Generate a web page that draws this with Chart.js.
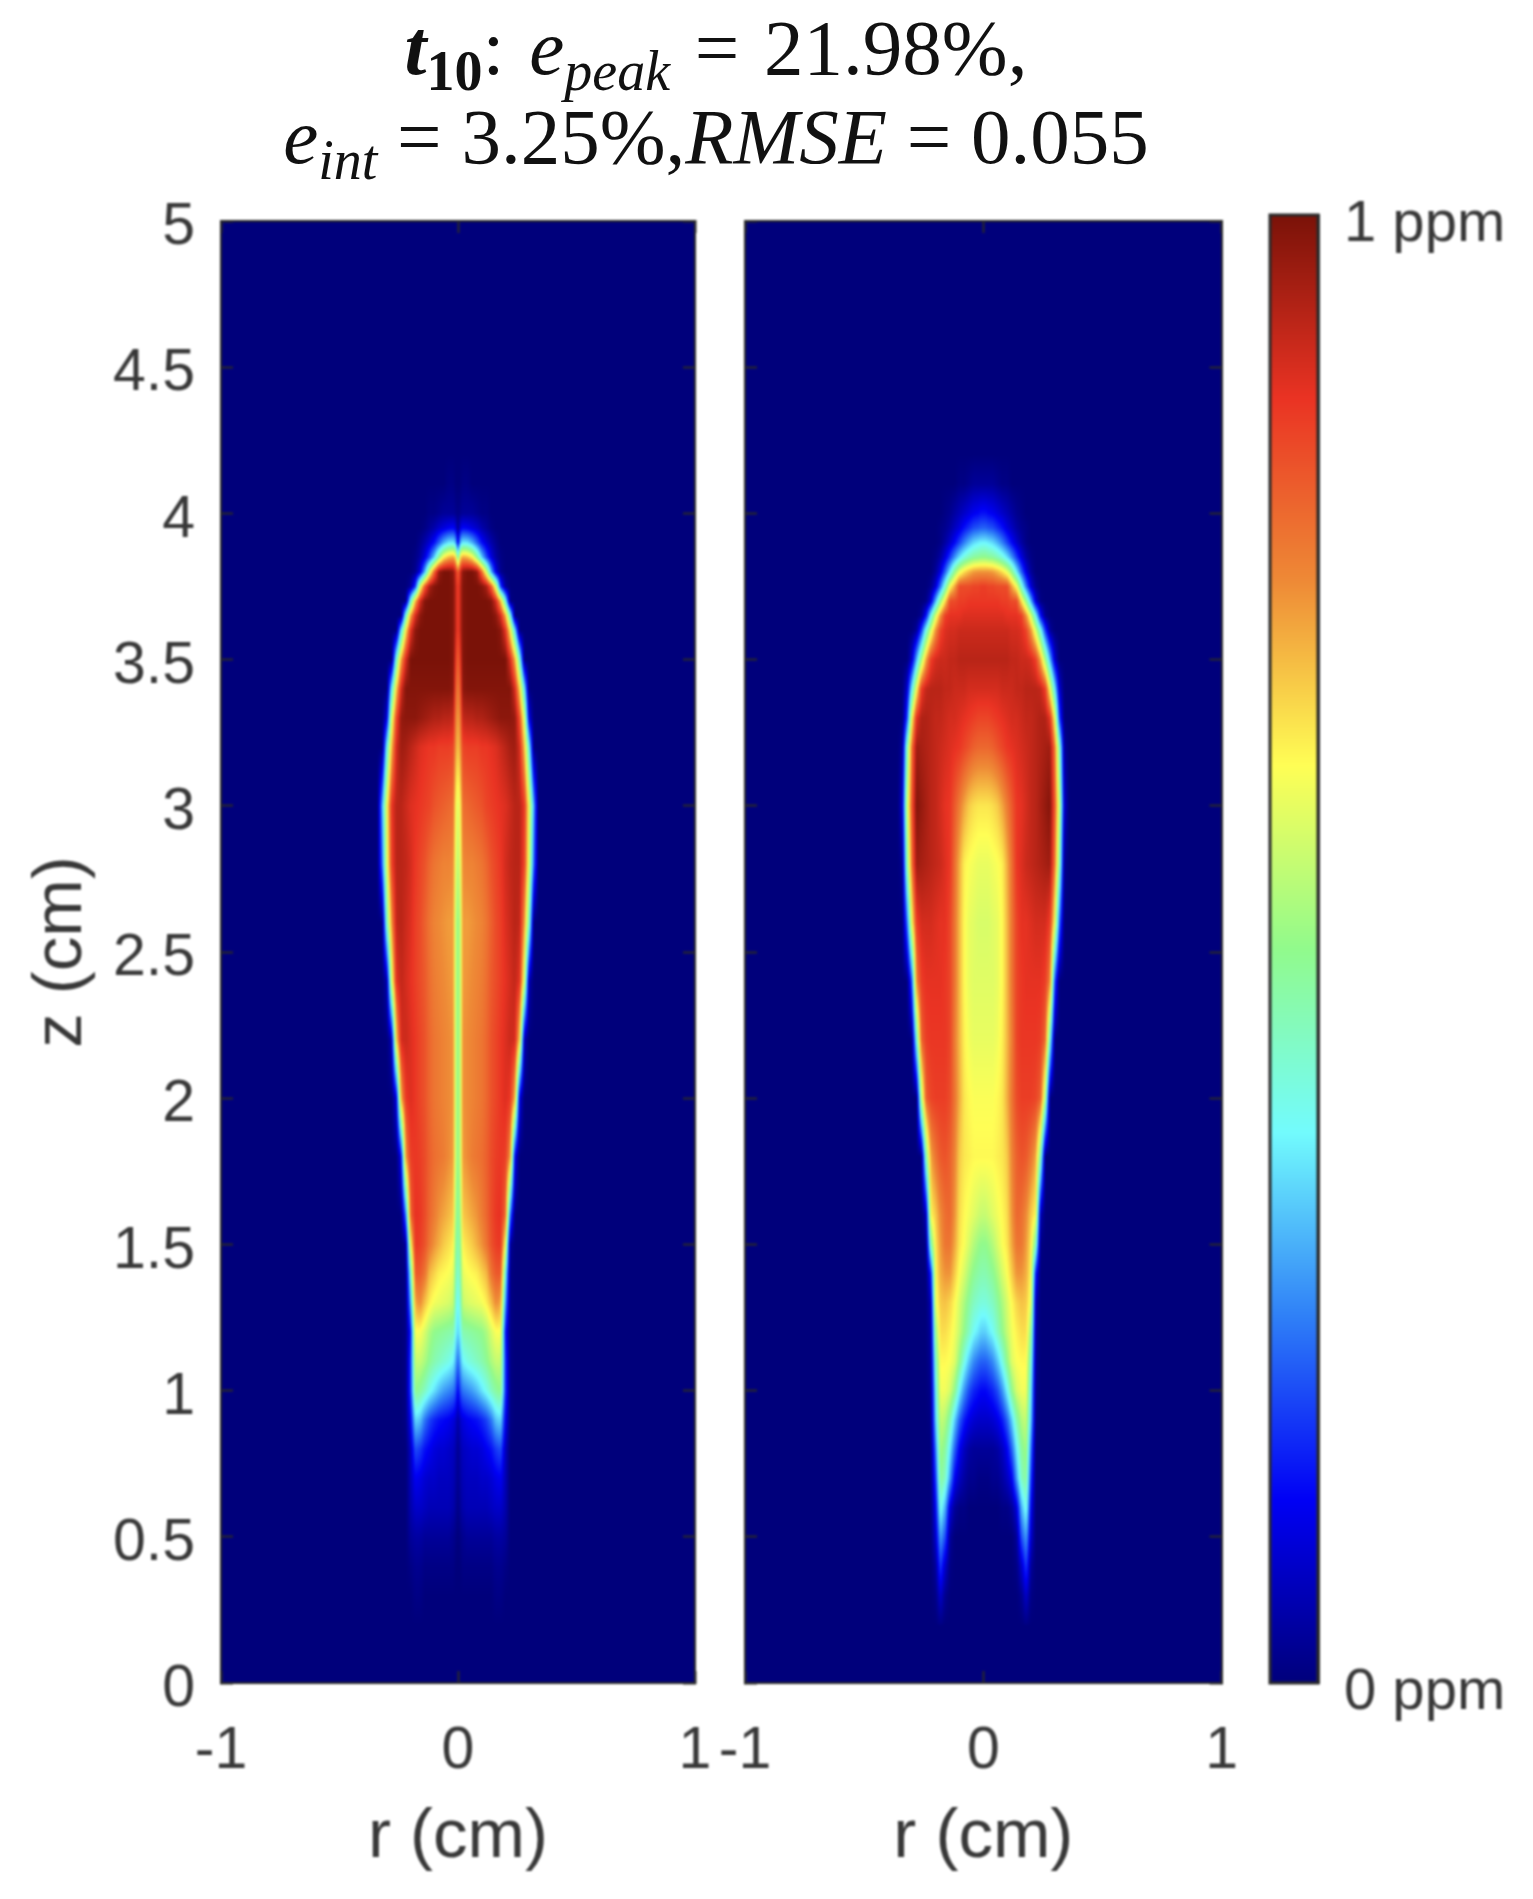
<!DOCTYPE html>
<html>
<head>
<meta charset="utf-8">
<title>t10 plume</title>
<script src="https://cdn.jsdelivr.net/npm/chart.js@4/dist/chart.umd.min.js"></script>
<style>
    html, body { margin: 0; padding: 0; background: #fff; width: 1533px; height: 1899px; overflow: hidden; }
    canvas { position: absolute; filter: blur(0.8px); }
    .title { position: absolute; left: 0; width: 1432px; text-align: center; font-family: "Liberation Serif", serif; font-size: 79px; line-height: 90px; color: #111; white-space: nowrap; filter: blur(0.6px); }
    .title i { font-style: italic; }
    .title sub { font-size: 56px; vertical-align: -16px; line-height: 0; }
</style>
</head>
<body>
<div class="title" style="top: 3px; word-spacing: 5px"><b><i>t</i><sub>10</sub></b>: <i>e<sub>peak</sub></i> = 21.98%,</div>
<div class="title" style="top: 92px"><i>e<sub>int</sub></i> = 3.25%,<i>RMSE</i> = 0.055</div>
<canvas id="leftPanel" style="left:0;top:120px" width="760" height="1779"></canvas>
<canvas id="rightPanel" style="left:660px;top:120px" width="623" height="1779"></canvas>
<canvas id="colorBar" style="left:1240px;top:120px" width="293" height="1779"></canvas>
<script>
// tick positions and labels
const zTicks = [0, 0.5, 1, 1.5, 2, 2.5, 3, 3.5, 4, 4.5, 5];
const rTicks = [-1, 0, 1];
const barTicks = [0, 1];
const barLabels = ["0 ppm", "1 ppm"];

// radius of each column, both panels are mirrored around r = 0
const rCols = [0, 0.01, 0.02, 0.04, 0.06, 0.08, 0.10, 0.12, 0.14, 0.16, 0.18, 0.20, 0.22, 0.24, 0.26, 0.28, 0.30, 0.32, 0.34, 0.36];
// height of each row
const zRows = [0.2, 0.3, 0.4, 0.5, 0.6, 0.7, 0.8, 0.9, 1.0, 1.1, 1.2, 1.3, 1.4, 1.5, 1.6, 1.8, 2.0, 2.2, 2.4, 2.6, 2.8, 3.0, 3.2, 3.3, 3.4, 3.5, 3.6, 3.65, 3.7, 3.75, 3.8, 3.85, 3.9, 3.95, 4.0, 4.1, 4.2];

// left panel, percent of 1 ppm, short rows are 0 further out
const leftValues = [
    [0],
    [0, 0, 0, 0, 0, 0, 0, 0, 0, 1, 1],
    [0, 0, 1, 1, 1, 1, 1, 1, 1, 2, 2, 1],
    [0, 1, 2, 3, 3, 3, 3, 3, 3, 4, 4, 3],
    [1, 3, 5, 6, 6, 6, 6, 6, 7, 8, 8, 5],
    [2, 4, 6, 7, 7, 7, 8, 8, 9, 11, 12, 6],
    [2, 5, 7, 8, 9, 9, 10, 12, 14, 18, 20, 7],
    [4, 8, 10, 12, 13, 14, 16, 19, 24, 32, 34, 12, 1],
    [12, 20, 24, 26, 28, 31, 35, 39, 44, 48, 50, 18, 1],
    [22, 30, 37, 40, 42, 44, 46, 49, 53, 56, 56, 18, 1],
    [33, 38, 46, 47, 48, 49, 50, 53, 58, 62, 62, 15, 1],
    [37, 43, 56, 58, 59, 60, 61, 64, 69, 75, 72, 28, 1],
    [42, 47, 60, 62, 63, 64, 67, 70, 78, 82, 82, 40, 1],
    [45, 50, 64, 66, 68, 71, 74, 78, 83, 86, 87, 62, 3],
    [47, 53, 68, 70, 72, 74, 77, 80, 84, 87, 88, 80, 24],
    [50, 56, 73, 75, 77, 78, 79, 81, 84, 86, 87, 86, 74, 12],
    [50, 56, 74, 75, 76, 77, 78, 80, 83, 85, 87, 89, 87, 71, 10],
    [50, 56, 74, 75, 76, 77, 78, 80, 83, 85, 87, 89, 91, 90, 67, 6],
    [50, 56, 73, 74, 75, 76, 77, 79, 82, 84, 86, 88, 90, 92, 88, 58, 5],
    [50, 56, 73, 73, 74, 75, 76, 78, 81, 84, 86, 89, 91, 93, 92, 74, 44],
    [54, 60, 75, 76, 76, 77, 78, 80, 83, 85, 87, 90, 92, 93, 93, 85, 59, 22],
    [58, 64, 79, 80, 81, 82, 83, 85, 86, 87, 88, 89, 91, 93, 93, 87, 62, 28],
    [68, 74, 85, 86, 86, 86, 87, 87, 88, 89, 91, 93, 95, 96, 90, 70, 38],
    [72, 78, 92, 93, 93, 94, 94, 95, 96, 97, 98, 98, 98, 97, 84, 58, 10],
    [76, 83, 98, 99, 99, 99, 99, 99, 99, 99, 99, 99, 99, 90, 68, 36],
    [80, 88, 99, 100, 100, 100, 100, 100, 100, 100, 100, 100, 90, 72, 42],
    [85, 92, 99, 100, 100, 100, 100, 100, 100, 100, 98, 88, 65, 35],
    [85, 92, 99, 100, 100, 100, 100, 100, 100, 98, 90, 72, 42],
    [85, 92, 99, 100, 100, 100, 100, 100, 99, 90, 70, 40, 1],
    [85, 92, 99, 100, 100, 100, 99, 95, 82, 58, 18, 3],
    [80, 90, 98, 100, 100, 97, 80, 58, 30, 10, 2],
    [45, 66, 72, 70, 64, 50, 33, 20, 10, 4, 1],
    [10, 30, 36, 35, 30, 22, 14, 9, 5, 2],
    [2, 10, 13, 12, 10, 8, 5, 3, 1],
    [1, 2, 3, 3, 3, 2, 1, 1],
    [0, 0, 1, 1],
    [0]
];

// right panel, same rows and columns
const rightValues = [
    [0, 0, 0, 0, 0, 0, 0, 0, 0, 0, 1],
    [0, 0, 0, 0, 0, 0, 0, 0, 0, 2, 8, 1],
    [0, 0, 0, 0, 0, 0, 0, 0, 1, 8, 18, 3],
    [0, 0, 0, 0, 0, 0, 0, 0, 3, 20, 28, 8],
    [0, 0, 0, 0, 0, 1, 1, 3, 10, 30, 40, 12],
    [1, 1, 1, 2, 2, 4, 7, 12, 28, 44, 48, 18],
    [3, 3, 3, 3, 4, 7, 12, 22, 36, 48, 52, 24],
    [8, 8, 8, 9, 11, 15, 22, 33, 46, 54, 56, 32, 1],
    [13, 13, 14, 16, 20, 27, 37, 50, 58, 61, 61, 36, 2],
    [22, 22, 23, 26, 32, 40, 50, 59, 62, 63, 63, 42, 3],
    [33, 33, 35, 38, 44, 50, 56, 61, 64, 66, 66, 50, 4],
    [41, 41, 42, 44, 48, 53, 58, 63, 67, 69, 68, 60, 6],
    [46, 46, 47, 49, 53, 58, 62, 68, 74, 74, 71, 63, 15],
    [50, 50, 51, 54, 58, 62, 65, 72, 78, 78, 73, 65, 45, 1],
    [56, 56, 57, 59, 61, 63, 66, 74, 80, 79, 75, 68, 63, 6],
    [63, 63, 63, 63, 64, 65, 68, 76, 81, 83, 82, 78, 72, 46],
    [62, 62, 62, 62, 63, 65, 71, 78, 84, 86, 86, 86, 85, 81, 53],
    [60, 60, 60, 60, 61, 64, 70, 77, 85, 87, 87, 87, 87, 86, 80, 40],
    [59, 59, 59, 59, 60, 63, 70, 78, 85, 87, 88, 88, 88, 88, 86, 76, 20],
    [58, 58, 58, 59, 60, 63, 70, 78, 85, 88, 88, 89, 90, 90, 90, 86, 62, 22],
    [60, 60, 60, 61, 62, 64, 71, 79, 87, 89, 91, 92, 93, 94, 95, 96, 78, 46, 2],
    [65, 65, 65, 66, 68, 72, 77, 82, 87, 88, 90, 92, 93, 95, 97, 99, 82, 55, 8],
    [80, 80, 80, 81, 83, 85, 87, 88, 89, 90, 91, 92, 93, 94, 95, 96, 78, 44, 3],
    [85, 85, 85, 86, 87, 88, 89, 90, 90, 91, 92, 92, 93, 94, 94, 88, 62, 18],
    [90, 90, 90, 90, 90, 91, 91, 91, 92, 92, 93, 93, 93, 92, 86, 62, 36, 8],
    [93, 93, 93, 93, 93, 93, 93, 92, 92, 91, 91, 90, 86, 72, 52, 30, 8],
    [91, 91, 91, 91, 91, 91, 91, 90, 90, 89, 85, 74, 58, 40, 18, 3],
    [89, 89, 89, 89, 89, 89, 88, 88, 88, 86, 74, 58, 38, 14, 2],
    [87, 87, 87, 87, 87, 86, 86, 84, 84, 66, 50, 30, 9, 1],
    [86, 86, 85, 85, 84, 84, 84, 72, 62, 42, 24, 9, 2],
    [74, 74, 74, 73, 70, 66, 60, 50, 36, 22, 10, 3],
    [50, 50, 49, 48, 45, 41, 35, 27, 18, 10, 4, 1],
    [37, 37, 36, 34, 30, 25, 19, 13, 8, 4, 1],
    [22, 22, 21, 20, 17, 14, 10, 7, 4, 2, 1],
    [14, 14, 13, 12, 10, 8, 6, 4, 2, 1],
    [3, 3, 3, 3, 2, 1, 1],
    [0]
];

// colour bar, levels in percent of 1 ppm from bottom to top
const barLevels = [0, 12.5, 25, 37.5, 50, 62.5, 75, 87.5, 100];
const barCols = [0, 1];

// jet as it shows up in the screenshot
const jetStops = [0, 12.5, 25, 37.5, 50, 62.5, 75, 87.5, 100];
const jetColors = ["#00007b", "#0000f5", "#2f80f7", "#72fbfd", "#91fa8c", "#fffe55", "#ee8a36", "#ea3323", "#7a1208"];
const jetRgb = jetColors.map((c) => [1, 3, 5].map((i) => parseInt(c.slice(i, i + 2), 16)));

function jet(v) {
    v = Math.max(0, Math.min(100, v));
    let i = 0;
    while (i < jetStops.length - 2 && v > jetStops[i + 1]) i++;
    const t = (v - jetStops[i]) / (jetStops[i + 1] - jetStops[i]);
    return jetRgb[i].map((c, k) => c + (jetRgb[i + 1][k] - c) * t);
}

// index of the interval that holds v, or -1 if outside
function findSpan(list, v) {
    if (v < list[0] || v > list[list.length - 1]) return -1;
    let i = 0;
    while (i < list.length - 2 && v > list[i + 1]) i++;
    return i;
}

// shaded cells, like shading interp in MATLAB
const heatPlugin = {
    id: "heat",
    beforeDatasetsDraw(chart) {
        const { ctx, chartArea: a, scales } = chart;
        const ds = chart.data.datasets[0];
        const left = Math.round(a.left), top = Math.round(a.top);
        const w = Math.round(a.right) - left, h = Math.round(a.bottom) - top;
        const img = ctx.createImageData(w, h);
        const xs = [];
        for (let px = 0; px < w; px++) xs.push(Math.abs(scales.x.getValueForPixel(left + px + 0.5)));
        for (let py = 0; py < h; py++) {
            const yv = scales.y.getValueForPixel(top + py + 0.5);
            const ri = findSpan(ds.rows, yv);
            const rt = ri < 0 ? 0 : (yv - ds.rows[ri]) / (ds.rows[ri + 1] - ds.rows[ri]);
            for (let px = 0; px < w; px++) {
                let v = 0;
                const ci = ri < 0 ? -1 : findSpan(ds.cols, xs[px]);
                if (ci >= 0) {
                    const ct = (xs[px] - ds.cols[ci]) / (ds.cols[ci + 1] - ds.cols[ci]);
                    const r0 = ds.grid[ri], r1 = ds.grid[ri + 1];
                    const a0 = (r0[ci] || 0) + ((r0[ci + 1] || 0) - (r0[ci] || 0)) * ct;
                    const a1 = (r1[ci] || 0) + ((r1[ci + 1] || 0) - (r1[ci] || 0)) * ct;
                    v = a0 + (a1 - a0) * rt;
                }
                const c = jet(v);
                const o = (py * w + px) * 4;
                img.data[o] = c[0];
                img.data[o + 1] = c[1];
                img.data[o + 2] = c[2];
                img.data[o + 3] = 255;
            }
        }
        ctx.putImageData(img, left, top);
    },
};

const frame = "#2a2a2a";
const inkColor = "#383838";

function fixedSize(size) {
    return (scale) => {
        if (scale.isHorizontal()) scale.height = size;
        else scale.width = size;
    };
}

function useTicks(list) {
    return (scale) => {
        scale.ticks = list.map((value) => ({ value }));
    };
}

function inkAxis(opts) {
    return {
        type: "linear",
        min: opts.min,
        max: opts.max,
        position: opts.position,
        afterFit: fixedSize(opts.size),
        afterBuildTicks: useTicks(opts.ticks),
        grid: { drawOnChartArea: false, tickLength: -12, tickColor: frame, tickWidth: 2, z: 1 },
        border: { color: frame, width: 2, z: 1 },
        ticks: {
            display: opts.labels === true,
            color: inkColor,
            font: { family: "Liberation Sans", size: 59 },
            padding: opts.padding,
            labelOffset: opts.labelOffset || 0,
            maxRotation: 0,
            autoSkip: false,
            callback: (v) => String(v),
        },
        title: opts.title
            ? { display: true, text: opts.title, color: inkColor, font: { family: "Liberation Sans", size: 69 }, padding: opts.titlePadding }
            : { display: false },
    };
}

function panel(id, values, yWidth, showY, rightPad) {
    const cells = [];
    zRows.forEach((z, i) => rCols.forEach((r, j) => cells.push({ x: r, y: z, v: values[i][j] || 0 })));
    new Chart(document.getElementById(id), {
        type: "scatter",
        data: { datasets: [{ data: cells, rows: zRows, cols: rCols, grid: values, pointRadius: 0, showLine: false }] },
        options: {
            responsive: false,
            animation: false,
            layout: { padding: { top: 101, right: rightPad, left: 0, bottom: 0 } },
            plugins: { legend: { display: false }, tooltip: { enabled: false } },
            events: [],
            scales: {
                x: inkAxis({ min: -1, max: 1, position: "bottom", size: 216, ticks: rTicks, labels: true, padding: 45, title: "r (cm)", titlePadding: { top: 0, bottom: 20 } }),
                y: inkAxis({ min: 0, max: 5, position: "left", size: yWidth, ticks: zTicks, labels: showY, padding: 38, labelOffset: 7, title: showY ? "z (cm)" : null, titlePadding: { top: 21, bottom: 0 } }),
                xTop: inkAxis({ min: -1, max: 1, position: "top", size: 0, ticks: rTicks }),
                yRight: inkAxis({ min: 0, max: 5, position: "right", size: 0, ticks: zTicks }),
            },
        },
        plugins: [heatPlugin],
    });
}

panel("leftPanel", leftValues, 221, true, 65);
panel("rightPanel", rightValues, 85, false, 60);

// colour bar
new Chart(document.getElementById("colorBar"), {
    type: "scatter",
    data: {
        datasets: [{
            data: barLevels.map((v) => ({ x: 0.5, y: v / 100 })),
            rows: barLevels.map((v) => v / 100),
            cols: barCols,
            grid: barLevels.map((v) => [v, v]),
            pointRadius: 0,
            showLine: false,
        }],
    },
    options: {
        responsive: false,
        animation: false,
        layout: { padding: { top: 95, left: 30, right: 0, bottom: 216 } },
        plugins: { legend: { display: false }, tooltip: { enabled: false } },
        events: [],
        scales: {
            x: { type: "linear", min: 0, max: 1, display: false },
            y: {
                type: "linear",
                min: 0,
                max: 1,
                position: "right",
                afterFit: fixedSize(215),
                afterBuildTicks: useTicks(barTicks),
                grid: { drawOnChartArea: false, drawTicks: false, z: 1 },
                border: { color: frame, width: 3, z: 1 },
                ticks: {
                    color: inkColor,
                    font: { family: "Liberation Sans", size: 58 },
                    padding: 26,
                    labelOffset: 10,
                    autoSkip: false,
                    callback: (v) => barLabels[barTicks.indexOf(v)],
                },
            },
        },
    },
    plugins: [heatPlugin, {
        id: "barFrame",
        afterDraw(chart) {
            const { ctx, chartArea: a } = chart;
            ctx.save();
            ctx.strokeStyle = frame;
            ctx.lineWidth = 3;
            ctx.strokeRect(a.left, a.top, a.right - a.left, a.bottom - a.top);
            ctx.restore();
        },
    }],
});
</script>
</body>
</html>
